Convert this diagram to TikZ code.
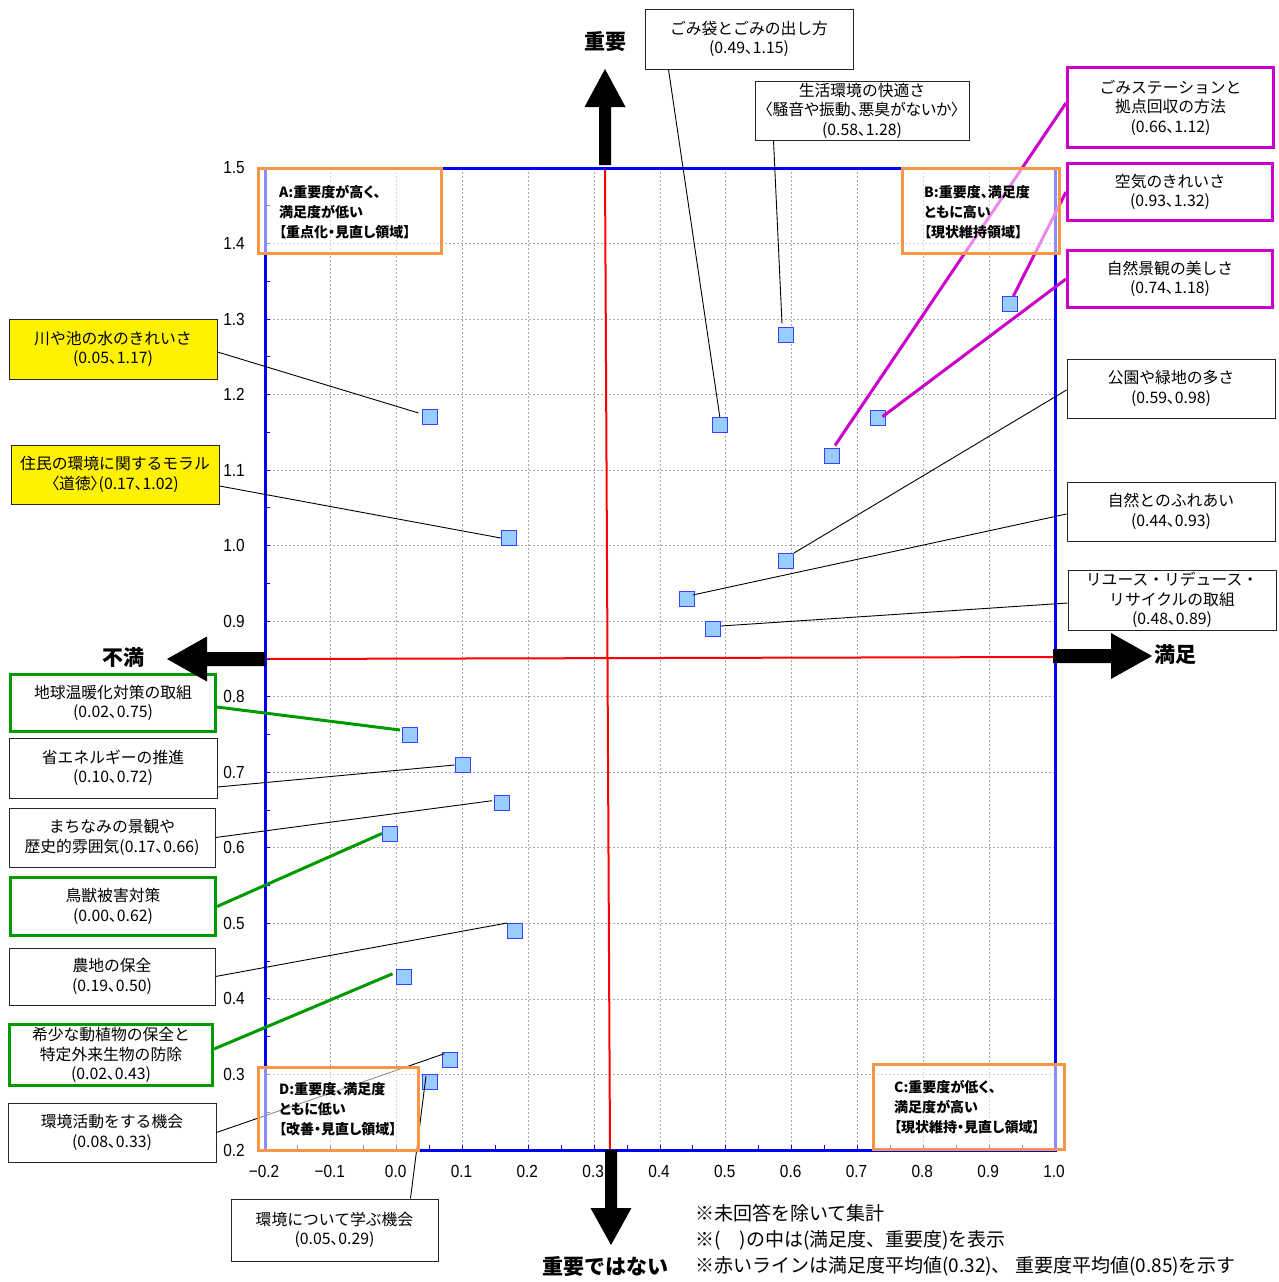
\documentclass[tikz,border=0pt]{standalone}
\usepackage{fontspec}
\setmainfont{Noto Sans CJK JP}
\newfontfamily\pfont{Noto Sans CJK JP}[RawFeature=+palt]
\newfontfamily\numfont{Liberation Sans}[FakeStretch=0.88]
\usetikzlibrary{calc}
\definecolor{quadorange}{HTML}{F79646}
\definecolor{hotmag}{HTML}{CC00CC}
\definecolor{leafgreen}{HTML}{009900}
\definecolor{markfill}{HTML}{99CCFF}
\definecolor{markedge}{HTML}{3344FF}
\definecolor{gridgray}{HTML}{A8A8A8}
\tikzset{
  lbox/.style={draw=black!85, line width=1pt, fill=white, align=center, inner sep=0pt,
    font=\fontsize{15.8}{19.5}\selectfont},
  ybox/.style={lbox, fill=yellow},
  gbox/.style={lbox, draw=leafgreen, line width=3pt},
  mbox/.style={lbox, draw=hotmag, line width=3pt},
  qbox/.style={draw=quadorange, line width=3pt, fill=white, fill opacity=0.55, inner sep=0pt},
  qtext/.style={align=left, anchor=west, inner sep=0pt, font=\pfont\bfseries\fontsize{14}{20}\selectfont},
  datapt/.style={draw=markedge, fill=markfill, line width=1pt, minimum size=15pt, inner sep=0pt},
  thinlink/.style={black, line width=0.9pt},
  glink/.style={leafgreen, line width=3pt},
  mlink/.style={hotmag, line width=3pt},
  gridline/.style={gridgray, line width=0.8pt, dash pattern=on 2pt off 2pt},
  axlbl/.style={font=\bfseries\fontsize{21}{21}\selectfont, inner sep=0pt},
  ticklbl/.style={font=\numfont\fontsize{17.5}{17.5}\selectfont, inner sep=0pt},
}
\begin{document}
\begin{tikzpicture}[x=1pt,y=-1pt]
\useasboundingbox (0,0) rectangle (1279,1282);

% grid (0.1 steps)
\foreach \k in {1,...,11} \draw[gridline] ({265+\k*65.8333},168) -- ({265+\k*65.8333},1150);
\foreach \k in {1,...,12} \draw[gridline] (265,{168+\k*75.5385}) -- (1055,{168+\k*75.5385});

% average lines
\draw[red, line width=2pt] (605,168) -- (610,1150);
\draw[red, line width=2pt] (265,659) -- (1055,657);

% plot frame and minor ticks
\foreach \k in {1,...,25} \draw[blue, line width=1pt] (265,{168+\k*37.7692}) -- ++(5,0);
\foreach \k in {1,...,23} \draw[blue, line width=1pt] ({265+\k*32.9167},1150) -- ++(0,-5);
\draw[blue, line width=3pt] (265,168) rectangle (1055,1150);

% tick labels
\foreach \lab [count=\k from 0] in {1.5,1.4,1.3,1.2,1.1,1.0,0.9,0.8,0.7,0.6,0.5,0.4,0.3,0.2}
  \node[ticklbl, anchor=east] (ty\k) at (245,{168+\k*75.5385}) {\lab};
\foreach \lab [count=\k from 0] in {−0.2,−0.1,0.0,0.1,0.2,0.3,0.4,0.5,0.6,0.7,0.8,0.9,1.0}
  \node[ticklbl] (tx\k) at ({264+\k*65.8333},1171) {\lab};

% data points
\node[datapt] (p1) at (429.6,417) {};
\node[datapt] (p2) at (508.8,538) {};
\node[datapt] (p3) at (719.8,425) {};
\node[datapt] (p4) at (786,334.5) {};
\node[datapt] (p5) at (832,455.5) {};
\node[datapt] (p6) at (1010.4,304) {};
\node[datapt] (p7) at (878.4,417.7) {};
\node[datapt] (p8) at (786,561) {};
\node[datapt] (p9) at (686.7,599) {};
\node[datapt] (p10) at (713,629) {};
\node[datapt] (p11) at (410,735) {};
\node[datapt] (p12) at (462.6,765) {};
\node[datapt] (p13) at (502,802.7) {};
\node[datapt] (p14) at (390,833.5) {};
\node[datapt] (p15) at (515,931) {};
\node[datapt] (p16) at (403.5,976.8) {};
\node[datapt] (p17) at (449.6,1059.6) {};
\node[datapt] (p18) at (430,1082) {};

% label boxes
\node[ybox, minimum width=208pt, minimum height=60pt] (b1) at (113,349) {川や池の水のきれいさ\\{\pfont (0.05、1.17)}};
\node[ybox, minimum width=208pt, minimum height=59pt] (b2) at (115,474.5) {住民の環境に関するモラル\\{\pfont 〈道徳〉(0.17、1.02)}};
\node[lbox, minimum width=208pt, minimum height=60pt] (b3) at (749,39) {ごみ袋とごみの出し方\\{\pfont (0.49、1.15)}};
\node[lbox, minimum width=214pt, minimum height=59pt] (b4) at (862,110.5) {生活環境の快適さ\\{\pfont 〈騒音や振動、悪臭がないか〉}\\{\pfont (0.58、1.28)}};
\node[mbox, minimum width=206pt, minimum height=80pt] (b5) at (1170.5,107.5) {ごみステーションと\\拠点回収の方法\\{\pfont (0.66、1.12)}};
\node[mbox, minimum width=205pt, minimum height=57pt] (b6) at (1170,192) {空気のきれいさ\\{\pfont (0.93、1.32)}};
\node[mbox, minimum width=205pt, minimum height=57pt] (b7) at (1170,279) {自然景観の美しさ\\{\pfont (0.74、1.18)}};
\node[lbox, minimum width=208pt, minimum height=59pt] (b8) at (1171,388.5) {公園や緑地の多さ\\{\pfont (0.59、0.98)}};
\node[lbox, minimum width=208pt, minimum height=59pt] (b9) at (1171,511.5) {自然とのふれあい\\{\pfont (0.44、0.93)}};
\node[lbox, minimum width=208pt, minimum height=60pt] (b10) at (1172,600) {リユース・リデュース・\\リサイクルの取組\\{\pfont (0.48、0.89)}};
\node[gbox, minimum width=205pt, minimum height=57pt] (b11) at (113,703) {地球温暖化対策の取組\\{\pfont (0.02、0.75)}};
\node[lbox, minimum width=208pt, minimum height=60pt] (b12) at (113,768) {省エネルギーの推進\\{\pfont (0.10、0.72)}};
\node[lbox, minimum width=206pt, minimum height=59pt] (b13) at (112,837.5) {まちなみの景観や\\歴史的雰囲気{\pfont (0.17、0.66)}};
\node[gbox, minimum width=205pt, minimum height=58pt] (b14) at (113,906.5) {鳥獣被害対策\\{\pfont (0.00、0.62)}};
\node[lbox, minimum width=206pt, minimum height=57pt] (b15) at (112,976.5) {農地の保全\\{\pfont (0.19、0.50)}};
\node[gbox, minimum width=203pt, minimum height=61pt] (b16) at (111,1055) {希少な動植物の保全と\\特定外来生物の防除\\{\pfont (0.02、0.43)}};
\node[lbox, minimum width=208pt, minimum height=59pt] (b17) at (112,1132.5) {環境活動をする機会\\{\pfont (0.08、0.33)}};
\node[lbox, minimum width=207pt, minimum height=62pt] (b18) at (334.5,1230) {環境について学ぶ機会\\{\pfont (0.05、0.29)}};

% connectors
\draw[thinlink] ($(b1.east)+(0,3)$) -- ($(p1)+(-11,-4)$);
\draw[thinlink] ($(b2.east)+(0,11.5)$) -- (p2.west);
\draw[thinlink] ($(b3.south west)+(24,0)$) -- (p3.north);
\draw[thinlink] ($(b4.south west)+(19,0)$) -- ($(p4.north)+(-4,-3)$);
\draw[mlink] ($(b5.west)+(0,-4.5)$) -- ($(p5.north)+(3,-2)$);
\draw[mlink] (b6.west) -- ($(p6.north)+(3,0)$);
\draw[mlink] (b7.west) -- ($(p7)+(4,-1)$);
\draw[thinlink] ($(b8.west)+(0,1.5)$) -- (p8.north east);
\draw[thinlink] ($(b9.west)+(0,2.5)$) -- ($(p9)+(6,-4)$);
\draw[thinlink] ($(b10.west)+(0,3)$) -- ($(p10.east)+(0,-3)$);
\draw[glink] ($(b11.east)+(0,4)$) -- ($(p11.north west)+(-2,3)$);
\draw[thinlink] ($(b12.east)+(0,19)$) -- (p12.west);
\draw[thinlink] (b13.east) -- ($(p13.west)+(-2,-2)$);
\draw[glink] (b14.east) -- (p14.west);
\draw[thinlink] (b15.east) -- (p15.north west);
\draw[glink] ($(b16.east)+(0,-6)$) -- ($(p16.west)+(-3,-3)$);
\draw[thinlink] (b17.east) -- ($(p17.north west)+(3,2)$);
\draw[thinlink] ($(b18.north east)+(-28,0)$) -- ($(p18)+(-4,-6)$);

% quadrant captions
\node[qbox, minimum width=183pt, minimum height=85pt] (qa) at (350,211) {};
\node[qbox, minimum width=157pt, minimum height=85pt] (qb) at (981,211) {};
\node[qbox, minimum width=191pt, minimum height=85pt] (qc) at (969,1107) {};
\node[qbox, minimum width=160pt, minimum height=83pt] (qd) at (338.5,1109) {};
\node[qtext] (qat) at (279,212) {A:重要度が高く、\\満足度が低い\\【重点化・見直し領域】};
\node[qtext] (qbt) at (924,212) {B:重要度、満足度\\ともに高い\\【現状維持領域】};
\node[qtext] (qct) at (894,1107) {C:重要度が低く、\\満足度が高い\\【現状維持・見直し領域】};
\node[qtext] (qdt) at (279,1109) {D:重要度、満足度\\ともに低い\\【改善・見直し領域】};

% direction arrows
\fill (599,165) -- (599,107) -- (584.5,107) -- (605,69) -- (625.5,107) -- (611,107) -- (611,165) -- cycle;
\fill (605,1150) -- (605,1208) -- (590.5,1208) -- (611,1245) -- (631.5,1208) -- (617,1208) -- (617,1150) -- cycle;
\fill (265,652) -- (207,652) -- (207,636.5) -- (167,659) -- (207,681.5) -- (207,666) -- (265,666) -- cycle;
\fill (1053,649) -- (1111,649) -- (1111,633) -- (1152,656) -- (1111,679) -- (1111,663) -- (1053,663) -- cycle;
\node[axlbl] (up) at (605,42) {重要};
\node[axlbl] (lo) at (605,1267) {重要ではない};
\node[axlbl] (lt) at (123,658) {不満};
\node[axlbl] (rt) at (1175,655) {満足};

% notes
\node[anchor=west, align=left, inner sep=0pt, font=\fontsize{19}{26}\selectfont] (notes) at (695,1240)
  {※未回答を除いて集計\\※(　)の中は(満足度、重要度)を表示\\※赤いラインは満足度平均値(0.32)、 重要度平均値(0.85)を示す};
\end{tikzpicture}
\end{document}
